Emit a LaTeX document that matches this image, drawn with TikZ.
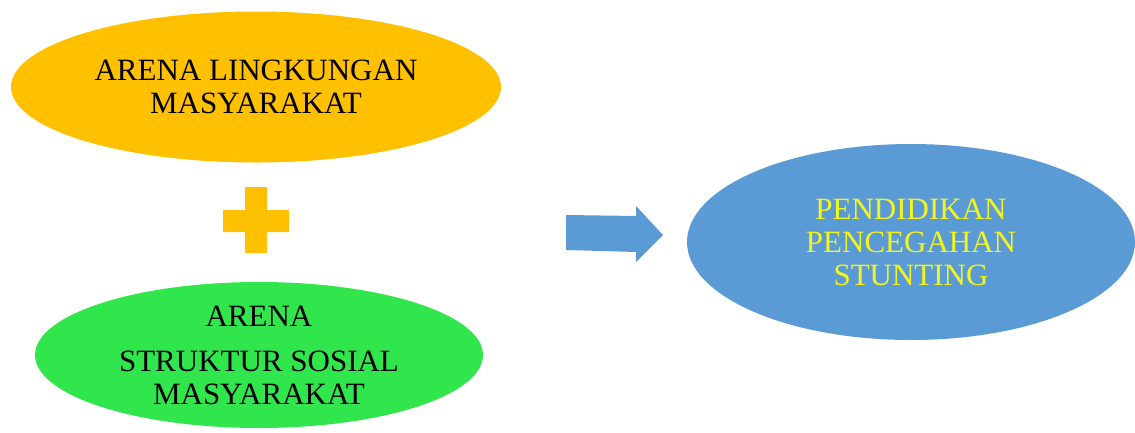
\documentclass[tikz,border=0pt]{standalone}
\usepackage{fontspec}
\setmainfont{Liberation Serif}
\usetikzlibrary{shapes.geometric}
\definecolor{orangeF}{HTML}{FFC000}
\definecolor{greenF}{HTML}{30E64C}
\definecolor{blueF}{HTML}{5B9BD5}
\definecolor{yellowT}{HTML}{F5F51E}
\begin{document}
\begin{tikzpicture}[x=1pt,y=-1pt,
  oval/.style={ellipse,inner sep=0pt,draw=none},
  lbl/.style={align=center,inner sep=0pt,font=\fontsize{31}{33}\selectfont}]
\useasboundingbox (0,0) rectangle (1135,432);
\node[oval,fill=orangeF,minimum width=490,minimum height=151] (orange) at (256,87) {};
\node[lbl,text=black] (t1) at (orange.center) {ARENA LINGKUNGAN\\MASYARAKAT};
\node[oval,fill=greenF,minimum width=448,minimum height=146] (green) at (259,355) {};
\node[lbl,text=black] (t2) at (green.center) {ARENA\\[12pt]STRUKTUR SOSIAL\\MASYARAKAT};
\node[oval,fill=blueF,minimum width=448,minimum height=196] (blue) at (911,242) {};
\node[lbl,text=yellowT] (t3) at (blue.center) {PENDIDIKAN\\PENCEGAHAN\\STUNTING};
% plus sign
\fill[orangeF] (245,187) -- (267,187) -- (267,210) -- (289,210) -- (289,232) -- (267,232)
  -- (267,253) -- (245,253) -- (245,232) -- (223,232) -- (223,210) -- (245,210) -- cycle;
% block arrow
\fill[blueF] (566,215) -- (636,216) -- (636,206) -- (663,235) -- (636,262) -- (636,252) -- (566,250) -- cycle;
\end{tikzpicture}
\end{document}
